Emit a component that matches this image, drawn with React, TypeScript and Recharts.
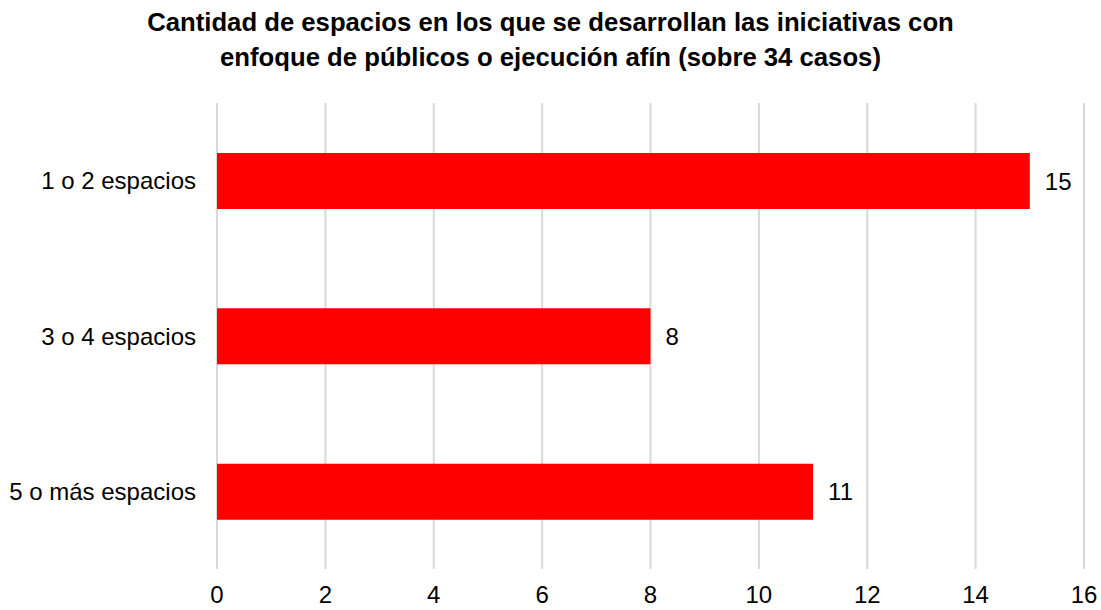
import { BarChart, Bar, XAxis, YAxis, CartesianGrid, LabelList } from 'recharts'

const categorias = ['1 o 2 espacios', '3 o 4 espacios', '5 o más espacios']
const casos = [15, 8, 11]
const ticksX = [0, 2, 4, 6, 8, 10, 12, 14, 16]

const data = categorias.map((categoria, i) => ({ categoria, casos: casos[i] }))

const font = 'Arial, "Liberation Sans", sans-serif'

export default function App() {
  return (
    <div style={{ position: 'absolute', left: 0, top: 0, width: 1101, height: 610, background: '#fff', fontFamily: font }}>
      <div
        style={{
          position: 'absolute',
          left: 0,
          top: 5,
          width: 1101,
          textAlign: 'center',
          fontWeight: 'bold',
          fontSize: 25.7,
          lineHeight: '35px',
          color: '#000',
        }}
      >
        Cantidad de espacios en los que se desarrollan las iniciativas con
        <br />
        enfoque de públicos o ejecución afín (sobre 34 casos)
      </div>
      <BarChart
        width={1101}
        height={610}
        data={data}
        layout="vertical"
        barSize={56}
        margin={{ top: 103, right: 17, bottom: 0, left: 0 }}
      >
        <CartesianGrid horizontal={false} stroke="#d9d9d9" strokeWidth={2} />
        <XAxis
          type="number"
          domain={[0, 16]}
          ticks={ticksX}
          axisLine={false}
          tickLine={false}
          height={41}
          tickMargin={11}
          tick={{ fill: '#000', fontSize: 24, fontFamily: font }}
        />
        <YAxis
          type="category"
          dataKey="categoria"
          width={217}
          axisLine={false}
          tickLine={false}
          tickMargin={15}
          tick={{ fill: '#000', fontSize: 24, fontFamily: font }}
        />
        <Bar dataKey="casos" fill="#ff0000" isAnimationActive={false}>
          <LabelList dataKey="casos" position="right" offset={15} fill="#000" fontSize={24} fontFamily={font} />
        </Bar>
      </BarChart>
    </div>
  )
}
